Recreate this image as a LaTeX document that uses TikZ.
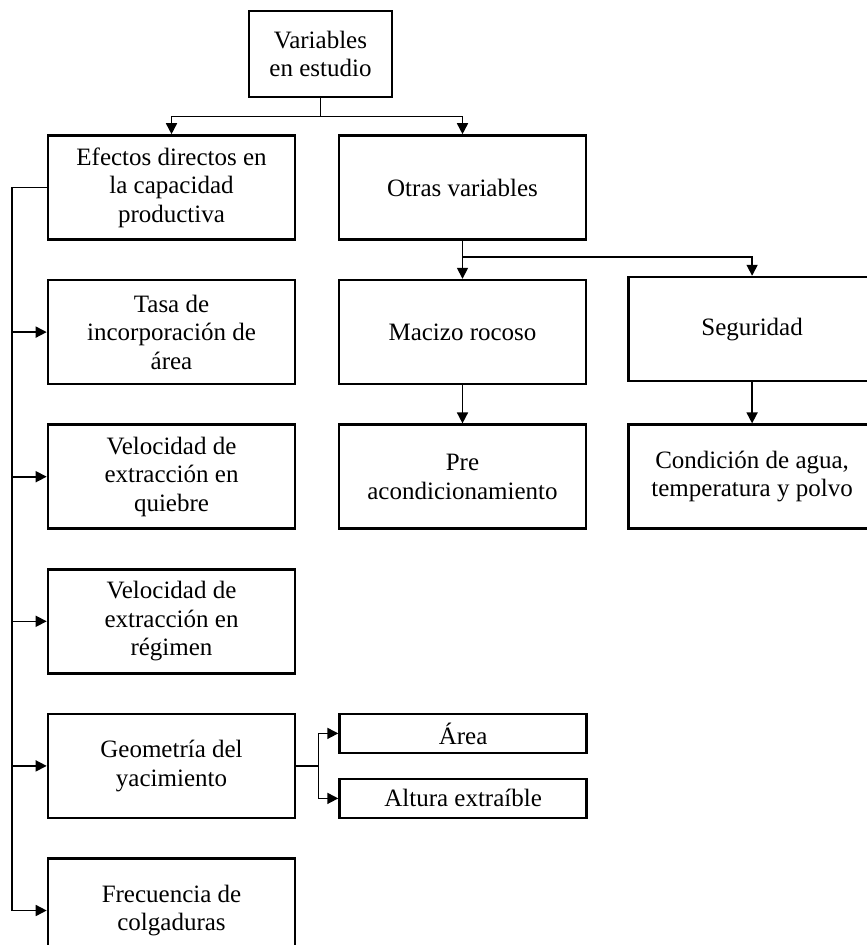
\documentclass[tikz,border=0pt]{standalone}
\usepackage{fontspec}
\setmainfont{Liberation Serif}
\usepackage{tikz}
\usetikzlibrary{arrows.meta,positioning,calc}
\tikzset{
  vbox/.style={rectangle, draw=black, line width=2.6pt,
               minimum width=247pt, minimum height=104pt, inner sep=2pt,
               align=center, font=\fontsize{25}{28.5}\selectfont},
  sbox/.style={vbox, minimum height=39pt},
  link/.style={line width=1.6pt, color=black},
  arr/.style={link, -{Triangle[length=11pt,width=11pt]}},
}
\begin{document}
\begin{tikzpicture}[x=1pt, y=-1pt, node distance=38pt]
    \useasboundingbox (0,0) rectangle (867,945);
    \clip (0,0) rectangle (867,945);
    \node[vbox, minimum width=143pt, minimum height=86pt] (top) at (320.5,54)
      {Variables\\en estudio};
    \node[vbox] (efectos) at (171.5,187.5)
      {Efectos directos en\\la capacidad\\productiva};
    \node[vbox] (otras) at (462.5,187.5) {Otras variables};
    \node[vbox, below=of efectos] (tasa) {Tasa de\\incorporación de\\área};
    \node[vbox, below=of tasa] (quiebre) {Velocidad de\\extracción en\\quiebre};
    \node[vbox, below=of quiebre] (regimen) {Velocidad de\\extracción en\\régimen};
    \node[vbox, below=of regimen] (geometria) {Geometría del\\yacimiento};
    \node[vbox, below=of geometria] (frecuencia) {Frecuencia de\\colgaduras};
    \node[vbox, below=of otras] (macizo) {Macizo rocoso};
    \node[vbox, below=of macizo] (pre) {Pre\\acondicionamiento};
    \node[vbox, right=40pt of macizo, yshift=3pt] (seguridad) {Seguridad};
    \node[vbox, right=40pt of pre] (condicion) {Condición de agua,\\temperatura y polvo};
    \node[sbox, anchor=north west] (area) at ([xshift=42pt]geometria.north east) {Área};
    \node[sbox, anchor=south west] (altura) at ([xshift=42pt]geometria.south east) {Altura extraíble};

    % top split
    \coordinate (jt) at ([yshift=-18pt]top.south);
    \draw[link] (top) -- (jt);
    \draw[arr] (jt) -| (efectos);
    \draw[arr] (jt) -| (otras);
    % otras variables split
    \coordinate (jo) at ([yshift=-16pt]otras.south);
    \draw[arr] (otras) -- (macizo);
    \draw[arr] (jo) -| (seguridad);
    \draw[arr] (macizo) -- (pre);
    \draw[arr] (seguridad) -- (condicion);
    % left bus
    \coordinate (bus) at ([xshift=-35pt]efectos.west);
    \draw[link] (efectos.west) -- (bus) -- (bus |- frecuencia.west);
    \foreach \n in {tasa,quiebre,regimen,geometria,frecuencia}
      \draw[arr] (bus |- \n.west) -- (\n.west);
    % geometria split
    \coordinate (jg) at ([xshift=22pt]geometria.east);
    \draw[link] (geometria) -- (jg);
    \draw[arr] (jg) |- (area);
    \draw[arr] (jg) |- (altura);
\end{tikzpicture}
\end{document}
